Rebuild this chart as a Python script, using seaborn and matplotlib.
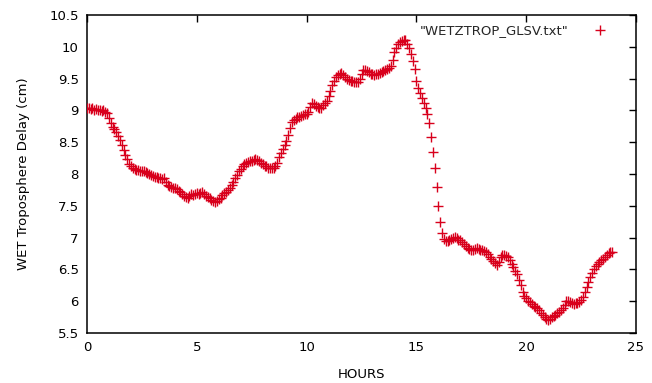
import numpy as np
import pandas as pd
import matplotlib
matplotlib.use("Agg")
import matplotlib.pyplot as plt
import seaborn as sns

# Wet troposphere delay (cm), one sample every 5 minutes, one row per hour
delay_cm = [
    9.03, 9.04, 9.02, 9.03, 9.01, 9.02, 9.00, 9.01, 8.99, 9.00, 8.98, 8.96,
    8.88, 8.80, 8.74, 8.70, 8.66, 8.60, 8.53, 8.46, 8.38, 8.30, 8.23, 8.16,
    8.12, 8.09, 8.08, 8.06, 8.07, 8.05, 8.04, 8.05, 8.03, 8.02, 8.00, 7.98,
    7.97, 7.96, 7.95, 7.94, 7.93, 7.92, 7.94, 7.88, 7.83, 7.81, 7.79, 7.78,
    7.78, 7.76, 7.74, 7.72, 7.69, 7.66, 7.64, 7.63, 7.66, 7.68, 7.67, 7.69,
    7.70, 7.69, 7.70, 7.71, 7.68, 7.66, 7.64, 7.62, 7.59, 7.57, 7.56, 7.58,
    7.60, 7.63, 7.67, 7.70, 7.72, 7.75, 7.78, 7.82, 7.87, 7.93, 7.99, 8.05,
    8.08, 8.12, 8.15, 8.17, 8.19, 8.20, 8.21, 8.22, 8.23, 8.22, 8.20, 8.18,
    8.15, 8.13, 8.12, 8.10, 8.09, 8.09, 8.10, 8.13, 8.18, 8.26, 8.33, 8.40,
    8.46, 8.52, 8.62, 8.72, 8.82, 8.85, 8.87, 8.89, 8.90, 8.91, 8.93, 8.95,
    8.95, 8.98, 9.05, 9.12, 9.10, 9.07, 9.05, 9.03, 9.04, 9.08, 9.11, 9.15,
    9.22, 9.30, 9.40, 9.47, 9.53, 9.56, 9.58, 9.59, 9.56, 9.52, 9.49, 9.48,
    9.47, 9.46, 9.45, 9.44, 9.45, 9.50, 9.58, 9.63, 9.64, 9.62, 9.60, 9.58,
    9.57, 9.56, 9.57, 9.58, 9.59, 9.60, 9.62, 9.64, 9.65, 9.66, 9.70, 9.80,
    9.92, 9.98, 10.04, 10.07, 10.09, 10.10, 10.11, 10.05, 9.98, 9.88, 9.78, 9.65,
    9.47, 9.35, 9.27, 9.20, 9.12, 9.03, 8.95, 8.80, 8.58, 8.35, 8.10, 7.80,
    7.50, 7.25, 7.08, 6.98, 6.95, 6.94, 6.96, 6.98, 7.00, 7.01, 6.99, 6.97,
    6.96, 6.93, 6.90, 6.87, 6.84, 6.82, 6.80, 6.81, 6.82, 6.83, 6.82, 6.81,
    6.80, 6.79, 6.78, 6.74, 6.70, 6.67, 6.63, 6.60, 6.57, 6.62, 6.70, 6.73,
    6.72, 6.71, 6.70, 6.65, 6.58, 6.54, 6.48, 6.42, 6.33, 6.25, 6.15, 6.08,
    6.05, 6.01, 5.99, 5.96, 5.93, 5.91, 5.89, 5.86, 5.82, 5.78, 5.75, 5.72,
    5.70, 5.72, 5.75, 5.77, 5.79, 5.81, 5.83, 5.86, 5.90, 5.94, 6.01, 6.00,
    5.98, 5.97, 5.96, 5.97, 5.97, 5.98, 6.02, 6.07, 6.15, 6.22, 6.30, 6.38,
    6.45, 6.50, 6.55, 6.58, 6.61, 6.64, 6.67, 6.70, 6.72, 6.75, 6.77, 6.78,
]
sample_minutes = 5
hours = np.arange(len(delay_cm)) * sample_minutes / 60.0

x_ticks = [0, 5, 10, 15, 20, 25]
x_tick_labels = ["0", "5", "10", "15", "20", "25"]
y_ticks = [5.5, 6, 6.5, 7, 7.5, 8, 8.5, 9, 9.5, 10, 10.5]
y_tick_labels = ["5.5", "6", "6.5", "7", "7.5", "8", "8.5", "9", "9.5", "10", "10.5"]
series_name = '"WETZTROP_GLSV.txt"'

df = pd.DataFrame({"HOURS": hours, "delay": delay_cm})

sns.set_theme(style="white")
plt.rcParams["font.family"] = ["DejaVu Sans"]

fig = plt.figure(figsize=(6.52, 3.83), dpi=100)
ax = fig.add_axes([87 / 652, 50 / 383, (636 - 87) / 652, (333 - 15) / 383])

sns.scatterplot(data=df, x="HOURS", y="delay", marker="+", color="#d8001c",
                s=42, linewidth=1.0, ax=ax, legend=False, zorder=3)

ax.set_xlim(0, 25)
ax.set_ylim(5.5, 10.5)
ax.set_xticks(x_ticks)
ax.set_xticklabels(x_tick_labels)
ax.set_yticks(y_ticks)
ax.set_yticklabels(y_tick_labels)

ax.tick_params(axis="both", which="both", direction="in", length=5, width=1,
               top=True, right=True, labelsize=9.5, colors="black", pad=6)
for sp in ax.spines.values():
    sp.set_visible(True)
    sp.set_color("black")
    sp.set_linewidth(1.1)

ax.set_xlabel("HOURS", fontsize=9.5, labelpad=10, color="black")
ax.set_ylabel("WET Troposphere Delay (cm)", fontsize=9.5, labelpad=14, color="black")

handle = plt.Line2D([], [], linestyle="none", marker="+", color="#d8001c",
                    markersize=7, markeredgewidth=1.0)
ax.legend([handle], [series_name], loc="upper right", frameon=False,
          markerfirst=False, fontsize=9.5, handletextpad=1.6,
          bbox_to_anchor=(0.969, 1.0), borderaxespad=0.3, handlelength=1.5)

fig.savefig("out.png", dpi=100)
